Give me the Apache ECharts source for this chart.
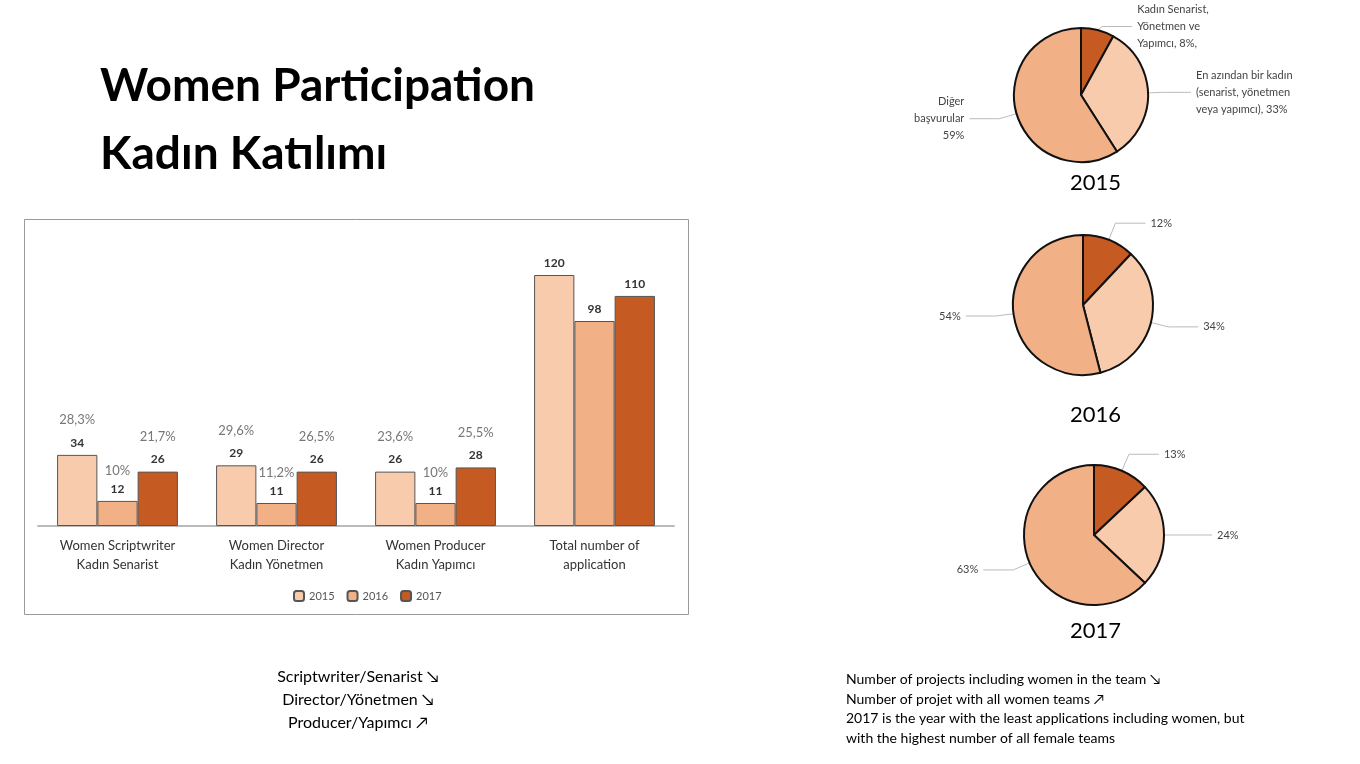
<!DOCTYPE html>
<html><head><meta charset="utf-8">
<script src="https://cdn.jsdelivr.net/npm/echarts@6/dist/echarts.min.js"></script>
<style>html,body{margin:0;padding:0;background:#fff}#c{width:1360px;height:764px}</style>
</head><body><div id="c"></div>
<script>
const categories = ['Women Scriptwriter\nKadın Senarist','Women Director\nKadın Yönetmen','Women Producer\nKadın Yapımcı','Total number of\napplication'];
const years = ['2015','2016','2017'];
const v2015 = [34,29,26,120];
const v2016 = [12,11,11,98];
const v2017 = [26,26,28,110];
const p2015 = ['28,3%','29,6%','23,6%',''];
const p2016 = ['10%','11,2%','10%',''];
const p2017 = ['21,7%','26,5%','25,5%',''];
const pieNames = ['Kadın Senarist, Yönetmen ve Yapımcı','En azından bir kadın (senarist, yönetmen veya yapımcı)','Diğer başvurular'];
const pie2015 = [8,33,59];
const pie2016 = [12,34,54];
const pie2017 = [13,24,63];
const colors = ['#F8CBAD','#F1B086','#C55A22'];
const pieColors = ['#C55A22','#F8CBAD','#F1B086'];
const F = 'Lato, "Open Sans", sans-serif';

function barSeries(i, vals, pcts){
  return {type:'bar', name:years[i], data:vals, barGap:'0%', barCategoryGap:'24%',
    itemStyle:{color:colors[i], borderColor:'#555', borderWidth:1},
    label:{show:true, position:'top', fontFamily:F,
      formatter:p=> pcts[p.dataIndex] ? '{p|'+pcts[p.dataIndex]+'}\n{v|'+p.value+'}' : '{v|'+p.value+'}',
      rich:{p:{color:'#777',fontSize:13,lineHeight:i==1?22:32,fontFamily:F}, v:{color:'#333',fontSize:12,fontWeight:'bold',lineHeight:14,fontFamily:F}}}};
}
function pie(c, r, data, withNames, yr){
  return {type:'pie', center:c, radius:r, startAngle:90, clockwise:true,
    data:data.map((v,k)=>({value:v,name:pieNames[k],itemStyle:{color:pieColors[k]}})),
    itemStyle:{borderColor:'#111',borderWidth:2},
    label:{show:true, fontFamily:F, fontSize:11, color:'#444', lineHeight:17, align:'center',
      formatter:p=>{ if(!withNames) return p.value+'%';
        return ['Kadın Senarist,\nYönetmen ve\nYapımcı, '+p.value+'%,','En azından bir kadın\n(senarist, yönetmen\nveya yapımcı), '+p.value+'%','Diğer\nbaşvurular\n'+p.value+'%'][p.dataIndex];}},
    labelLine:{show:true,length:18,length2:30,lineStyle:{color:'#bbb'}}, silent:true};
}
const chart = echarts.init(document.getElementById('c'));
chart.setOption({
  animation:false,
  grid:{left:38, width:636, top:275, bottom:238},
  xAxis:{type:'category', data:categories, axisTick:{show:false},
    axisLine:{lineStyle:{color:'#bbb',width:2}},
    axisLabel:{fontFamily:F,fontSize:13,color:'#333',lineHeight:19,margin:10}},
  yAxis:{type:'value', min:0, max:120, show:false},
  legend:{data:years, left:288, top:585, itemWidth:10, itemHeight:10, itemGap:12,
    textStyle:{fontFamily:F,fontSize:11,color:'#555'}},
  series:[barSeries(0,v2015,p2015), barSeries(1,v2016,p2016), barSeries(2,v2017,p2017),
    pie([1081,95],67,pie2015,true), pie([1083,305],70,pie2016,false), pie([1094,535],70,pie2017,false)],
  graphic:[
    {type:'rect', shape:{x:24.5,y:219.5,width:664,height:395}, style:{fill:'none',stroke:'#999',lineWidth:1}},
    {type:'text', left:100, top:52, style:{text:'Women Participation\nKadın Katılımı', font:'bold 46px '+F, fill:'#000', lineHeight:68}},
    {type:'text', left:1070, top:172, style:{text:'2015', font:'22px '+F, fill:'#000', textAlign:'center'}},
    {type:'text', left:1070, top:404, style:{text:'2016', font:'22px '+F, fill:'#000'}},
    {type:'text', left:1070, top:620, style:{text:'2017', font:'22px '+F, fill:'#000'}},
    {type:'text', x:358, y:665, style:{text:'Scriptwriter/Senarist ↘\nDirector/Yönetmen ↘\nProducer/Yapımcı ↗', font:'16px '+F, fill:'#000', align:'center', lineHeight:23}},
    {type:'text', x:846, y:670, style:{text:'Number of projects including women in the team ↘\nNumber of projet with all women teams ↗\n2017 is the year with the least applications including women, but\nwith the highest number of all female teams', font:'14px '+F, fill:'#000', lineHeight:19.5}}
  ]
});
</script></body></html>
